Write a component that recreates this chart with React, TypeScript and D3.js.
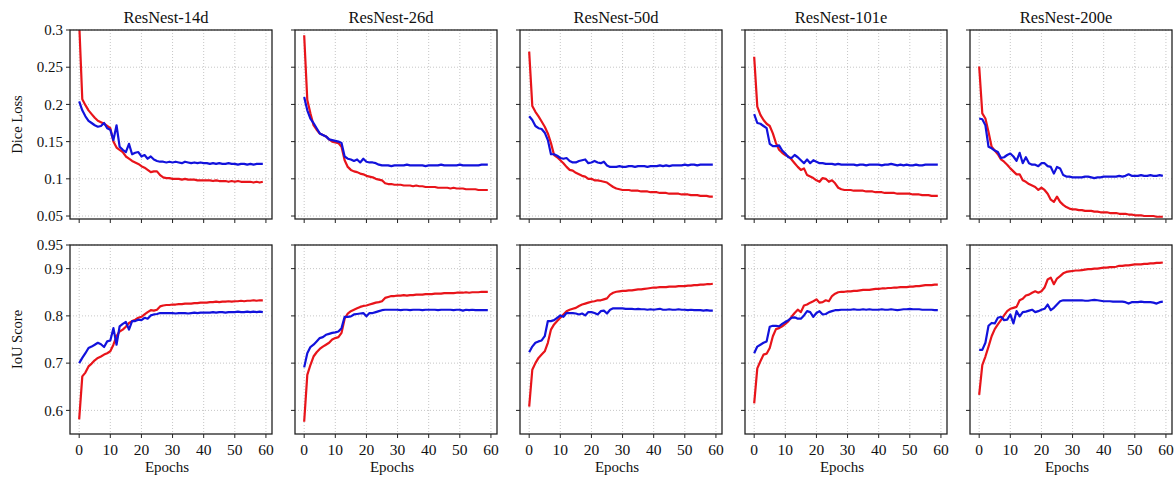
import React from "react";
import * as d3 from "d3";

// ---------- data ----------
const modelNames = ["ResNest-14d", "ResNest-26d", "ResNest-50d", "ResNest-101e", "ResNest-200e"];
const xTickValues = [0, 10, 20, 30, 40, 50, 60];
const lossTickValues = [0.05, 0.1, 0.15, 0.2, 0.25, 0.3];
const lossTickLabels = ["0.05", "0.1", "0.15", "0.2", "0.25", "0.3"];
const iouTickValues = [0.6, 0.7, 0.8, 0.9, 0.95];
const iouTickLabels = ["0.6", "0.7", "0.8", "0.9", "0.95"];
const rowLabels = ["Dice Loss", "IoU Score"];

const loss14dRed = [0.310, 0.207, 0.199, 0.192, 0.187, 0.182, 0.178, 0.176, 0.174, 0.171, 0.168, 0.150, 0.142, 0.139, 0.136, 0.130, 0.127, 0.124, 0.122, 0.120, 0.117, 0.115, 0.112, 0.109, 0.110, 0.110, 0.105, 0.102, 0.101, 0.101, 0.100, 0.100, 0.100, 0.099, 0.100, 0.099, 0.099, 0.099, 0.098, 0.098, 0.098, 0.098, 0.098, 0.097, 0.098, 0.097, 0.097, 0.097, 0.096, 0.097, 0.096, 0.097, 0.096, 0.096, 0.096, 0.096, 0.095, 0.096, 0.095, 0.096];
const loss14dBlue = [0.204, 0.192, 0.184, 0.178, 0.175, 0.172, 0.170, 0.171, 0.175, 0.168, 0.166, 0.152, 0.172, 0.143, 0.139, 0.136, 0.147, 0.133, 0.135, 0.136, 0.130, 0.132, 0.127, 0.130, 0.126, 0.124, 0.123, 0.123, 0.122, 0.123, 0.122, 0.123, 0.122, 0.121, 0.123, 0.122, 0.121, 0.122, 0.121, 0.122, 0.121, 0.121, 0.120, 0.121, 0.120, 0.121, 0.120, 0.120, 0.121, 0.120, 0.120, 0.119, 0.120, 0.120, 0.119, 0.120, 0.119, 0.120, 0.120, 0.120];
const iou14dRed = [0.581, 0.672, 0.680, 0.693, 0.699, 0.706, 0.711, 0.714, 0.718, 0.721, 0.725, 0.739, 0.757, 0.767, 0.771, 0.777, 0.785, 0.789, 0.792, 0.796, 0.798, 0.803, 0.808, 0.812, 0.811, 0.813, 0.820, 0.822, 0.823, 0.823, 0.824, 0.824, 0.825, 0.825, 0.826, 0.826, 0.826, 0.827, 0.827, 0.828, 0.828, 0.828, 0.829, 0.829, 0.830, 0.829, 0.830, 0.830, 0.831, 0.830, 0.831, 0.831, 0.832, 0.831, 0.832, 0.832, 0.833, 0.832, 0.833, 0.833];
const iou14dBlue = [0.700, 0.711, 0.721, 0.732, 0.735, 0.739, 0.743, 0.740, 0.734, 0.746, 0.748, 0.774, 0.739, 0.778, 0.783, 0.787, 0.771, 0.789, 0.789, 0.792, 0.791, 0.796, 0.794, 0.801, 0.803, 0.804, 0.806, 0.806, 0.806, 0.806, 0.806, 0.805, 0.806, 0.806, 0.806, 0.805, 0.806, 0.807, 0.806, 0.807, 0.807, 0.807, 0.807, 0.808, 0.807, 0.808, 0.808, 0.807, 0.808, 0.808, 0.808, 0.809, 0.808, 0.808, 0.809, 0.808, 0.809, 0.808, 0.809, 0.808];

const loss26dRed = [0.293, 0.206, 0.188, 0.172, 0.166, 0.161, 0.159, 0.157, 0.153, 0.150, 0.149, 0.148, 0.143, 0.125, 0.116, 0.112, 0.110, 0.109, 0.107, 0.106, 0.104, 0.103, 0.102, 0.100, 0.099, 0.098, 0.094, 0.093, 0.093, 0.092, 0.092, 0.092, 0.091, 0.091, 0.091, 0.090, 0.091, 0.090, 0.090, 0.089, 0.089, 0.089, 0.089, 0.088, 0.088, 0.088, 0.088, 0.087, 0.088, 0.087, 0.087, 0.087, 0.086, 0.086, 0.086, 0.086, 0.085, 0.085, 0.085, 0.085];
const loss26dBlue = [0.210, 0.192, 0.181, 0.175, 0.168, 0.161, 0.159, 0.157, 0.153, 0.152, 0.151, 0.150, 0.148, 0.130, 0.127, 0.126, 0.124, 0.126, 0.122, 0.127, 0.123, 0.122, 0.122, 0.121, 0.119, 0.118, 0.118, 0.118, 0.117, 0.118, 0.118, 0.118, 0.118, 0.119, 0.118, 0.118, 0.118, 0.118, 0.118, 0.117, 0.118, 0.118, 0.118, 0.118, 0.119, 0.118, 0.118, 0.118, 0.118, 0.118, 0.119, 0.118, 0.118, 0.118, 0.118, 0.118, 0.118, 0.119, 0.119, 0.119];
const iou26dRed = [0.576, 0.675, 0.696, 0.714, 0.723, 0.730, 0.735, 0.739, 0.743, 0.750, 0.753, 0.755, 0.764, 0.794, 0.805, 0.810, 0.813, 0.816, 0.819, 0.821, 0.822, 0.824, 0.826, 0.828, 0.829, 0.831, 0.838, 0.840, 0.842, 0.842, 0.843, 0.843, 0.844, 0.843, 0.844, 0.844, 0.845, 0.845, 0.845, 0.846, 0.846, 0.846, 0.847, 0.847, 0.847, 0.848, 0.848, 0.848, 0.848, 0.849, 0.849, 0.849, 0.850, 0.849, 0.850, 0.850, 0.850, 0.851, 0.851, 0.851];
const iou26dBlue = [0.691, 0.721, 0.734, 0.739, 0.746, 0.753, 0.755, 0.760, 0.762, 0.764, 0.765, 0.767, 0.774, 0.798, 0.798, 0.799, 0.803, 0.804, 0.805, 0.806, 0.799, 0.806, 0.806, 0.808, 0.810, 0.812, 0.813, 0.813, 0.813, 0.813, 0.813, 0.812, 0.813, 0.813, 0.812, 0.813, 0.813, 0.813, 0.812, 0.813, 0.813, 0.813, 0.813, 0.812, 0.813, 0.813, 0.813, 0.813, 0.812, 0.813, 0.813, 0.811, 0.813, 0.812, 0.813, 0.812, 0.812, 0.812, 0.812, 0.812];

const loss50dRed = [0.271, 0.198, 0.190, 0.184, 0.177, 0.170, 0.161, 0.148, 0.132, 0.129, 0.125, 0.121, 0.116, 0.112, 0.111, 0.108, 0.106, 0.104, 0.103, 0.100, 0.100, 0.098, 0.098, 0.097, 0.096, 0.095, 0.092, 0.089, 0.087, 0.086, 0.085, 0.085, 0.085, 0.084, 0.084, 0.084, 0.083, 0.083, 0.083, 0.082, 0.082, 0.082, 0.081, 0.081, 0.081, 0.080, 0.080, 0.080, 0.080, 0.079, 0.079, 0.079, 0.078, 0.078, 0.078, 0.077, 0.077, 0.077, 0.076, 0.076];
const loss50dBlue = [0.184, 0.179, 0.171, 0.168, 0.167, 0.162, 0.152, 0.133, 0.133, 0.131, 0.128, 0.127, 0.128, 0.124, 0.122, 0.122, 0.124, 0.125, 0.126, 0.121, 0.122, 0.124, 0.122, 0.121, 0.123, 0.118, 0.116, 0.116, 0.116, 0.117, 0.116, 0.116, 0.117, 0.117, 0.116, 0.117, 0.117, 0.117, 0.116, 0.117, 0.117, 0.117, 0.118, 0.117, 0.118, 0.117, 0.118, 0.118, 0.118, 0.118, 0.119, 0.118, 0.119, 0.119, 0.118, 0.119, 0.119, 0.119, 0.119, 0.119];
const iou50dRed = [0.608, 0.686, 0.700, 0.711, 0.718, 0.725, 0.743, 0.771, 0.782, 0.789, 0.796, 0.803, 0.810, 0.813, 0.815, 0.817, 0.821, 0.824, 0.826, 0.828, 0.830, 0.831, 0.833, 0.833, 0.835, 0.837, 0.845, 0.849, 0.851, 0.852, 0.853, 0.853, 0.854, 0.854, 0.855, 0.856, 0.856, 0.857, 0.858, 0.859, 0.860, 0.860, 0.861, 0.861, 0.861, 0.862, 0.862, 0.862, 0.863, 0.863, 0.863, 0.864, 0.864, 0.865, 0.865, 0.866, 0.866, 0.867, 0.867, 0.868];
const iou50dBlue = [0.723, 0.735, 0.743, 0.746, 0.748, 0.757, 0.789, 0.789, 0.791, 0.796, 0.801, 0.798, 0.806, 0.806, 0.806, 0.805, 0.803, 0.805, 0.801, 0.808, 0.808, 0.806, 0.803, 0.810, 0.811, 0.805, 0.813, 0.816, 0.816, 0.816, 0.816, 0.815, 0.815, 0.815, 0.814, 0.815, 0.814, 0.814, 0.813, 0.814, 0.813, 0.814, 0.815, 0.813, 0.813, 0.814, 0.813, 0.813, 0.814, 0.813, 0.813, 0.812, 0.813, 0.812, 0.812, 0.812, 0.811, 0.812, 0.811, 0.811];

const loss101eRed = [0.264, 0.197, 0.186, 0.179, 0.174, 0.171, 0.161, 0.148, 0.139, 0.135, 0.132, 0.130, 0.126, 0.121, 0.116, 0.112, 0.114, 0.105, 0.103, 0.101, 0.098, 0.096, 0.101, 0.100, 0.096, 0.098, 0.094, 0.088, 0.086, 0.085, 0.085, 0.085, 0.084, 0.084, 0.084, 0.084, 0.083, 0.083, 0.083, 0.082, 0.082, 0.082, 0.081, 0.081, 0.081, 0.081, 0.080, 0.080, 0.080, 0.080, 0.080, 0.079, 0.079, 0.079, 0.078, 0.078, 0.078, 0.077, 0.077, 0.077];
const loss101eBlue = [0.187, 0.175, 0.174, 0.171, 0.168, 0.147, 0.144, 0.144, 0.145, 0.138, 0.134, 0.129, 0.128, 0.132, 0.129, 0.125, 0.121, 0.126, 0.121, 0.125, 0.123, 0.121, 0.121, 0.120, 0.120, 0.120, 0.119, 0.120, 0.119, 0.119, 0.119, 0.119, 0.119, 0.118, 0.119, 0.119, 0.118, 0.119, 0.119, 0.119, 0.119, 0.118, 0.119, 0.119, 0.120, 0.119, 0.118, 0.119, 0.118, 0.119, 0.118, 0.118, 0.119, 0.118, 0.118, 0.119, 0.119, 0.119, 0.119, 0.119];
const iou101eRed = [0.615, 0.689, 0.704, 0.718, 0.720, 0.732, 0.757, 0.772, 0.774, 0.778, 0.783, 0.789, 0.798, 0.806, 0.813, 0.808, 0.822, 0.824, 0.828, 0.831, 0.835, 0.828, 0.829, 0.833, 0.831, 0.842, 0.847, 0.850, 0.851, 0.851, 0.852, 0.852, 0.853, 0.853, 0.854, 0.855, 0.855, 0.855, 0.856, 0.857, 0.857, 0.858, 0.858, 0.859, 0.859, 0.860, 0.860, 0.861, 0.861, 0.861, 0.862, 0.862, 0.863, 0.863, 0.864, 0.865, 0.865, 0.865, 0.866, 0.866];
const iou101eBlue = [0.721, 0.735, 0.739, 0.743, 0.746, 0.777, 0.779, 0.779, 0.778, 0.783, 0.787, 0.791, 0.796, 0.797, 0.794, 0.794, 0.801, 0.810, 0.808, 0.798, 0.806, 0.810, 0.803, 0.804, 0.808, 0.810, 0.812, 0.812, 0.813, 0.813, 0.813, 0.813, 0.814, 0.813, 0.813, 0.814, 0.813, 0.814, 0.813, 0.813, 0.813, 0.814, 0.813, 0.813, 0.814, 0.813, 0.812, 0.813, 0.814, 0.814, 0.815, 0.814, 0.814, 0.814, 0.813, 0.813, 0.813, 0.813, 0.812, 0.812];

const loss200eRed = [0.251, 0.188, 0.181, 0.163, 0.143, 0.138, 0.133, 0.126, 0.123, 0.119, 0.114, 0.110, 0.106, 0.106, 0.098, 0.096, 0.093, 0.091, 0.089, 0.085, 0.088, 0.085, 0.080, 0.072, 0.069, 0.076, 0.069, 0.065, 0.062, 0.060, 0.059, 0.059, 0.058, 0.058, 0.057, 0.057, 0.057, 0.056, 0.056, 0.055, 0.055, 0.055, 0.054, 0.054, 0.054, 0.053, 0.053, 0.053, 0.052, 0.052, 0.051, 0.051, 0.051, 0.050, 0.050, 0.050, 0.050, 0.049, 0.049, 0.049];
const loss200eBlue = [0.181, 0.180, 0.172, 0.143, 0.141, 0.138, 0.136, 0.128, 0.129, 0.132, 0.134, 0.130, 0.124, 0.135, 0.121, 0.129, 0.121, 0.119, 0.119, 0.117, 0.121, 0.121, 0.117, 0.116, 0.107, 0.116, 0.114, 0.105, 0.103, 0.103, 0.102, 0.102, 0.102, 0.102, 0.103, 0.103, 0.102, 0.101, 0.102, 0.102, 0.103, 0.103, 0.103, 0.103, 0.103, 0.104, 0.103, 0.104, 0.106, 0.104, 0.104, 0.104, 0.105, 0.104, 0.104, 0.105, 0.104, 0.104, 0.105, 0.104];
const iou200eRed = [0.633, 0.696, 0.714, 0.735, 0.757, 0.772, 0.782, 0.791, 0.801, 0.810, 0.815, 0.817, 0.819, 0.833, 0.836, 0.843, 0.845, 0.849, 0.852, 0.849, 0.852, 0.860, 0.877, 0.881, 0.867, 0.879, 0.884, 0.890, 0.893, 0.894, 0.895, 0.896, 0.896, 0.897, 0.898, 0.899, 0.899, 0.900, 0.900, 0.901, 0.902, 0.902, 0.903, 0.903, 0.904, 0.906, 0.906, 0.907, 0.907, 0.908, 0.909, 0.909, 0.909, 0.910, 0.910, 0.911, 0.911, 0.912, 0.912, 0.913];
const iou200eBlue = [0.728, 0.728, 0.743, 0.779, 0.785, 0.784, 0.796, 0.798, 0.791, 0.792, 0.803, 0.784, 0.810, 0.799, 0.808, 0.809, 0.811, 0.813, 0.808, 0.810, 0.813, 0.815, 0.824, 0.812, 0.817, 0.824, 0.831, 0.833, 0.833, 0.833, 0.833, 0.833, 0.833, 0.833, 0.832, 0.832, 0.833, 0.834, 0.833, 0.832, 0.831, 0.831, 0.831, 0.830, 0.830, 0.830, 0.830, 0.829, 0.826, 0.829, 0.829, 0.829, 0.830, 0.829, 0.829, 0.829, 0.828, 0.826, 0.829, 0.830];

const lossRed = [loss14dRed, loss26dRed, loss50dRed, loss101eRed, loss200eRed];
const lossBlue = [loss14dBlue, loss26dBlue, loss50dBlue, loss101eBlue, loss200eBlue];
const iouRed = [iou14dRed, iou26dRed, iou50dRed, iou101eRed, iou200eRed];
const iouBlue = [iou14dBlue, iou26dBlue, iou50dBlue, iou101eBlue, iou200eBlue];

// ---------- layout ----------
const W = 1176;
const H = 479;
const PANEL_LEFTS = [70, 295, 520, 745, 970];
const PANEL_W = 202;
const ROWS = [
  { top: 30, bottom: 219, domain: [0.046, 0.3], ticks: lossTickValues, labels: lossTickLabels, red: lossRed, blue: lossBlue },
  { top: 245, bottom: 434, domain: [0.55, 0.95], ticks: iouTickValues, labels: iouTickLabels, red: iouRed, blue: iouBlue },
];
const RED = "#e8141a";
const BLUE = "#1212dc";
const INK = "#111";
const FONT = "'Liberation Serif', 'Times New Roman', serif";

export default function App() {
  return (
    <svg width={W} height={H} style={{ position: "absolute", left: 0, top: 0, background: "#fff" }} fontFamily={FONT}>
      <defs>
        {ROWS.map((row, r) =>
          PANEL_LEFTS.map((left, c) => (
            <clipPath id={`clip-${r}-${c}`} key={`${r}-${c}`}>
              <rect x={left} y={row.top} width={PANEL_W} height={row.bottom - row.top} />
            </clipPath>
          ))
        )}
      </defs>
      {ROWS.map((row, r) =>
        PANEL_LEFTS.map((left, c) => {
          const x = d3.scaleLinear().domain([-2.95, 61.95]).range([left, left + PANEL_W]);
          const y = d3.scaleLinear().domain(row.domain).range([row.bottom, row.top]);
          const line = d3
            .line<number>()
            .x((_, i) => x(i))
            .y((v) => y(v));
          const cx = left + PANEL_W / 2;
          return (
            <g key={`${r}-${c}`}>
              {xTickValues.map((t) => (
                <line key={`gx${t}`} x1={x(t)} x2={x(t)} y1={row.top} y2={row.bottom} stroke="#b8b8b8" strokeWidth={0.8} strokeDasharray="1,2" />
              ))}
              {row.ticks.map((t) => (
                <line key={`gy${t}`} x1={left} x2={left + PANEL_W} y1={y(t)} y2={y(t)} stroke="#b8b8b8" strokeWidth={0.8} strokeDasharray="1,2" />
              ))}
              <g clipPath={`url(#clip-${r}-${c})`}>
                <path d={line(row.red[c]) || ""} fill="none" stroke={RED} strokeWidth={2.2} strokeLinejoin="round" />
                <path d={line(row.blue[c]) || ""} fill="none" stroke={BLUE} strokeWidth={2.2} strokeLinejoin="round" />
              </g>
              <rect x={left} y={row.top} width={PANEL_W} height={row.bottom - row.top} fill="none" stroke="#222" strokeWidth={1.3} />
              {xTickValues.map((t) => (
                <line key={`tx${t}`} x1={x(t)} x2={x(t)} y1={row.bottom} y2={row.bottom + 4} stroke="#222" strokeWidth={1} />
              ))}
              {row.ticks.map((t) => (
                <line key={`ty${t}`} x1={left - 4} x2={left} y1={y(t)} y2={y(t)} stroke="#222" strokeWidth={1} />
              ))}
              {c === 0 &&
                row.ticks.map((t, i) => (
                  <text key={`ly${t}`} x={left - 7} y={y(t)} dy="0.35em" textAnchor="end" fontSize={15} fill={INK}>
                    {row.labels[i]}
                  </text>
                ))}
              {c === 0 && (
                <text
                  transform={`translate(${17},${(row.top + row.bottom) / 2}) rotate(-90)`}
                  textAnchor="middle"
                  dy="0.35em"
                  fontSize={14.5}
                  fill={INK}
                >
                  {rowLabels[r]}
                </text>
              )}
              {r === 0 && (
                <text x={cx - 5} y={23} textAnchor="middle" fontSize={16.5} fill={INK}>
                  {modelNames[c]}
                </text>
              )}
              {r === 1 &&
                xTickValues.map((t) => (
                  <text key={`lx${t}`} x={x(t)} y={455} textAnchor="middle" fontSize={15.5} fill={INK}>
                    {t}
                  </text>
                ))}
              {r === 1 && (
                <text x={cx - 4} y={472} textAnchor="middle" fontSize={15} fill={INK}>
                  Epochs
                </text>
              )}
            </g>
          );
        })
      )}
    </svg>
  );
}
